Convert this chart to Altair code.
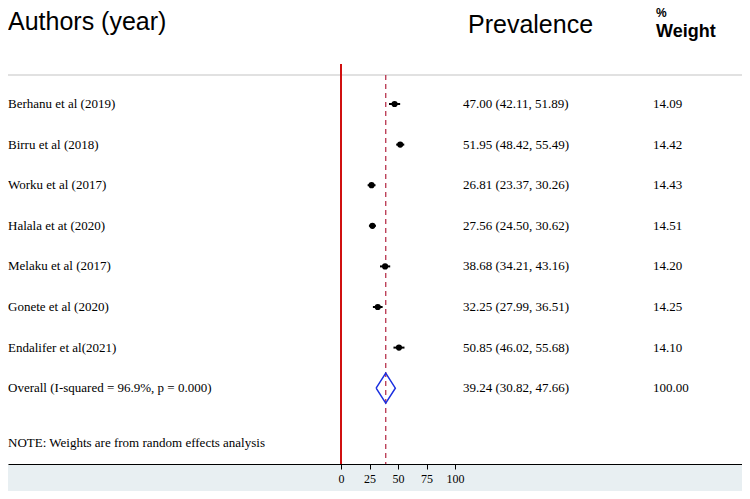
import altair as alt
import pandas as pd

studies = ["Berhanu et al (2019)", "Birru et al (2018)", "Worku et al (2017)",
           "Halala et at (2020)", "Melaku et al (2017)", "Gonete et al (2020)",
           "Endalifer et al(2021)"]
estimates = [47.00, 51.95, 26.81, 27.56, 38.68, 32.25, 50.85]
lower = [42.11, 48.42, 23.37, 24.50, 34.21, 27.99, 46.02]
upper = [51.89, 55.49, 30.26, 30.62, 43.16, 36.51, 55.68]
weights = [14.09, 14.42, 14.43, 14.51, 14.20, 14.25, 14.10]
overall_label = "Overall  (I-squared = 96.9%, p = 0.000)"
overall_est = 39.24
overall_lo = 30.82
overall_hi = 47.66
overall_w = 100.00
x_ticks = [0, 25, 50, 75, 100]
note = "NOTE: Weights are from random effects analysis"

W, H = 734, 456
xscale = alt.Scale(domain=[-292.105, 351.754], nice=False, zero=False)
yscale = alt.Scale(domain=[-2.3645, 8.867], nice=False, zero=False, reverse=True)
xaxis = alt.Axis(values=x_ticks, title=None, grid=False, domainColor="black",
                 domainWidth=1, tickColor="black", tickSize=5, labelFont="Liberation Serif",
                 labelFontSize=12, labelColor="black", labelPadding=4, zindex=1,
                 orient="bottom")

n = len(studies)
rows = pd.DataFrame({
    "row": list(range(n)),
    "est": estimates,
    "lo": lower,
    "hi": upper,
})
labels = pd.DataFrame({
    "row": list(range(n + 1)),
    "label": studies + [overall_label],
    "ci": [f"{e:.2f} ({l:.2f}, {h:.2f})" for e, l, h in zip(estimates, lower, upper)]
          + [f"{overall_est:.2f} ({overall_lo:.2f}, {overall_hi:.2f})"],
    "w": [f"{w:.2f}" for w in weights] + [f"{overall_w:.2f}"],
})
half = 0.37
diamond = pd.DataFrame({
    "x": [overall_lo, overall_est, overall_hi, overall_est, overall_lo],
    "row": [n, n - half, n, n + half, n],
    "o": [0, 1, 2, 3, 4],
})
ov = pd.DataFrame({"x": [overall_est]})
zero = pd.DataFrame({"x": [0]})
one = pd.DataFrame({"a": [1]})

band = alt.Chart(one).mark_rect(color="#e8eff2").encode(
    x=alt.value(0), x2=alt.value(W), y=alt.value(H), y2=alt.value(H + 30))

hline = alt.Chart(one).mark_rule(color="#c4c4c4", strokeWidth=1.2).encode(
    x=alt.value(0), x2=alt.value(W), y=alt.value(67))

redline = alt.Chart(zero).mark_rule(color="#d01010", strokeWidth=2).encode(
    x=alt.X("x:Q", scale=xscale, axis=xaxis), y=alt.value(56), y2=alt.value(H))

dashline = alt.Chart(ov).mark_rule(color="#b8344e", strokeWidth=1.3, strokeDash=[5, 4]).encode(
    x=alt.X("x:Q", scale=xscale, axis=xaxis), y=alt.value(67), y2=alt.value(H))

ci = alt.Chart(rows).mark_rule(color="black", strokeWidth=2).encode(
    x=alt.X("lo:Q", scale=xscale, axis=xaxis), x2="hi:Q",
    y=alt.Y("row:Q", scale=yscale, axis=None))

pts = alt.Chart(rows).mark_point(filled=True, shape="circle", size=38, color="black",
                                 opacity=1).encode(
    x=alt.X("est:Q", scale=xscale, axis=xaxis),
    y=alt.Y("row:Q", scale=yscale, axis=None))

dia = alt.Chart(diamond).mark_line(color="#1a2fe0", strokeWidth=1.5).encode(
    x=alt.X("x:Q", scale=xscale, axis=xaxis),
    y=alt.Y("row:Q", scale=yscale, axis=None),
    order="o:Q")

font_serif = "Liberation Serif"
txt_study = alt.Chart(labels).mark_text(align="left", baseline="middle", font=font_serif,
                                        fontSize=13, color="black").encode(
    x=alt.value(0), y=alt.Y("row:Q", scale=yscale, axis=None), text="label:N")
txt_ci = alt.Chart(labels).mark_text(align="left", baseline="middle", font=font_serif,
                                     fontSize=13, color="black").encode(
    x=alt.value(455), y=alt.Y("row:Q", scale=yscale, axis=None), text="ci:N")
txt_w = alt.Chart(labels).mark_text(align="left", baseline="middle", font=font_serif,
                                    fontSize=13, color="black").encode(
    x=alt.value(645), y=alt.Y("row:Q", scale=yscale, axis=None), text="w:N")

txt_note = alt.Chart(pd.DataFrame({"t": [note]})).mark_text(
    align="left", baseline="middle", font=font_serif, fontSize=13, color="black").encode(
    x=alt.value(0), y=alt.value(435), text="t:N")

head_font = "Liberation Sans"
h1 = alt.Chart(pd.DataFrame({"t": ["Authors (year)"]})).mark_text(
    align="left", baseline="alphabetic", font=head_font, fontSize=25, color="black").encode(
    x=alt.value(0), y=alt.value(22), text="t:N")
h2 = alt.Chart(pd.DataFrame({"t": ["Prevalence"]})).mark_text(
    align="left", baseline="alphabetic", font=head_font, fontSize=25, color="black").encode(
    x=alt.value(460), y=alt.value(25), text="t:N")
h3 = alt.Chart(pd.DataFrame({"t": ["%"]})).mark_text(
    align="left", baseline="top", font=head_font, fontWeight="bold",
    fontSize=12, color="black").encode(
    x=alt.value(648), y=alt.value(0), text="t:N")
h4 = alt.Chart(pd.DataFrame({"t": ["Weight"]})).mark_text(
    align="left", baseline="alphabetic", font=head_font, fontWeight="bold",
    fontSize=18, color="black").encode(
    x=alt.value(648), y=alt.value(29), text="t:N")

chart = alt.layer(
    band, hline, redline, dashline, ci, pts, dia,
    txt_study, txt_ci, txt_w, txt_note, h1, h2, h3, h4
).properties(
    width=W, height=H,
    autosize=alt.AutoSizeParams(type="none"),
    padding={"left": 0, "right": 0, "top": 0, "bottom": 27},
    background="white",
).configure_view(stroke=None)

chart.save("out.html", embed_options={"renderer": "svg", "actions": False})
